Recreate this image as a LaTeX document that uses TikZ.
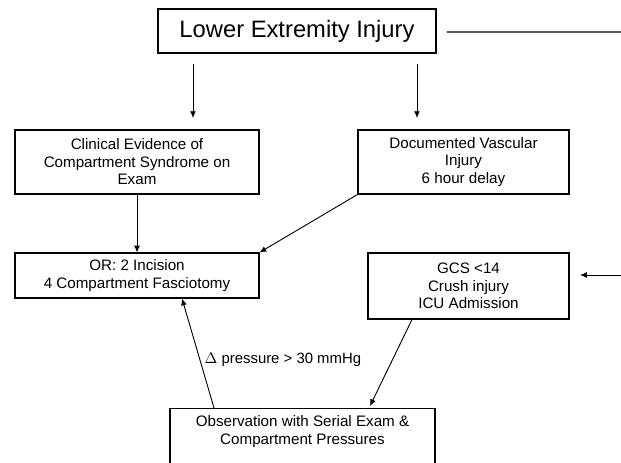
\documentclass[tikz,border=0pt]{standalone}
\usepackage{fontspec}
\setmainfont{Liberation Sans}
\usetikzlibrary{arrows.meta}

\begin{document}
\begin{tikzpicture}
        % Define styles
        \tikzstyle{title} = [rectangle, minimum width=6.95cm, minimum height=1.1cm, text centered, draw=black, line width=0.75pt, font=\fontsize{16.9}{19}\selectfont]
        \tikzstyle{box} = [rectangle, inner sep=2pt, align=center, draw=black, line width=0.75pt, font=\fontsize{10.8}{12.45}\selectfont]
        \tikzstyle{arrow} = [line width=0.65pt, -{Latex[length=4.8pt,width=4.2pt]}]

        % Page frame
        \clip (0,0) rectangle (15.525,-11.575);

        % Place the nodes
        \node (injury) [title] at (7.425,-0.775) {Lower Extremity Injury};
        \node (clinical) [box, minimum width=6.1cm, minimum height=1.6cm] at (3.425,-4.05) {Clinical Evidence of\\Compartment Syndrome on\\Exam};
        \node (vascular) [box, minimum width=5.275cm, minimum height=1.6cm] at (11.5875,-4.05) {Documented Vascular\\Injury\\6 hour delay};
        \node (or) [box, minimum width=6.1cm, minimum height=1.125cm] at (3.425,-6.8875) {OR: 2 Incision\\4 Compartment Fasciotomy};
        \node (gcs) [box, minimum width=5.025cm, minimum height=1.65cm] at (11.7125,-7.15) {GCS <14\\Crush injury\\ICU Admission};
        \node (obs) [box, minimum width=6.625cm, anchor=north, inner ysep=5pt, text depth=1.2cm] at (7.5625,-10.2) {Observation with Serial Exam \&\\Compartment Pressures};

        % Loose ends
        \coordinate (leftfrom) at (4.825,-1.6);
        \coordinate (leftto) at (4.825,-2.95);
        \coordinate (rightfrom) at (10.425,-1.6);
        \coordinate (rightto) at (10.425,-2.95);
        \coordinate (lineend) at (15.525,-0.8);
        \coordinate (gcsfrom) at (15.525,-6.875);
        \coordinate (gcsto) at (14.5,-6.875);

        % Draw the arrows
        \draw [line width=0.75pt] ([xshift=0.25cm,yshift=-0.025cm]injury.east) -- (lineend);
        \draw [arrow] (leftfrom) -- (leftto);
        \draw [arrow] (rightfrom) -- (rightto);
        \draw [arrow] (clinical.south) -- (or.north);
        \draw [arrow] (vascular.south west) -- (or.north east);
        \draw [arrow] (gcsfrom) -- (gcsto);
        \draw [arrow] ([xshift=-1.4125cm]gcs.south) -- ([xshift=1.6875cm,yshift=0.05cm]obs.north);
        \draw [arrow] ([xshift=-2.2125cm]obs.north) -- ([xshift=1.125cm]or.south) node[pos=0.44, right, inner sep=3pt, font=\fontsize{10.6}{12.45}\selectfont] {$\Delta$ pressure > 30 mmHg};

    \end{tikzpicture}
\end{document}
